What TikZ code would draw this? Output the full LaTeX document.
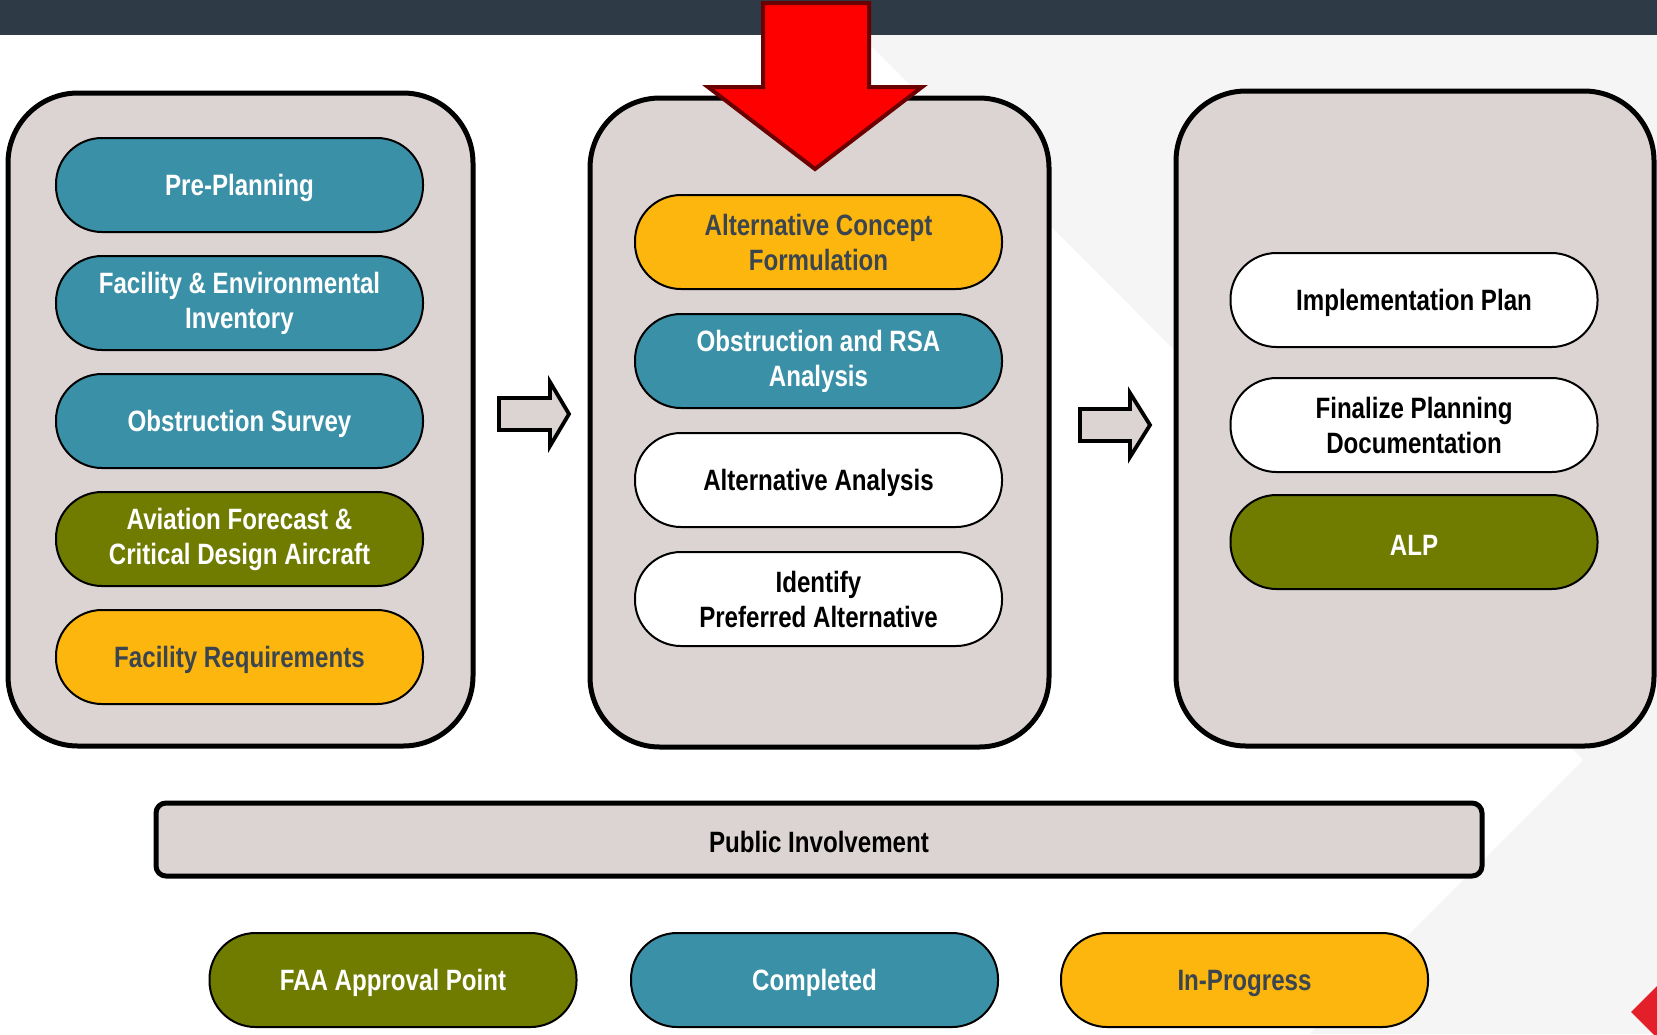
\documentclass[tikz,border=0pt]{standalone}
\usepackage{fontspec}
\setmainfont{Liberation Sans}[FakeStretch=0.82]
\usepackage{tikz}
\usetikzlibrary{positioning}
\definecolor{topbar}{HTML}{2E3B46}
\definecolor{lightbg}{HTML}{F5F5F5}
\definecolor{panelgray}{HTML}{DCD4D3}
\definecolor{tealdone}{HTML}{3A90A7}
\definecolor{faaolive}{HTML}{6F7C00}
\definecolor{amber}{HTML}{FDB60D}
\definecolor{slatetext}{HTML}{3A4550}
\definecolor{redfill}{HTML}{FF0000}
\definecolor{reddark}{HTML}{6B0000}
\definecolor{logored}{HTML}{E3202A}
\tikzset{
  panel/.style={draw, line width=2.5pt, fill=panelgray, rounded corners=35pt},
  pill/.style={draw, line width=1pt, rounded corners=23pt, minimum width=183.5pt,
    minimum height=47pt, align=center, inner sep=0pt,
    execute at begin node={\rule{0pt}{13.5pt}},
    font=\bfseries\fontsize{14.7}{17.5}\selectfont},
  done/.style={pill, fill=tealdone, text=white},
  doing/.style={pill, fill=amber, text=slatetext},
  todo/.style={pill, fill=white, text=black},
  approval/.style={pill, fill=faaolive, text=white},
  hollow/.style={draw, line width=1.9pt, fill=panelgray, line join=miter},
  bigarrow/.style={draw=reddark, line width=2pt, fill=redfill, line join=miter}
  }

\begin{document}
\begin{tikzpicture}[x=0.5pt, y=-0.5pt]
	\useasboundingbox (0,0) rectangle (1657,1034);
	% Background
	\fill[lightbg] (0,0) rectangle (1657,1034);
	\fill[white] (0,35) -- (860,35) -- (1583,760) -- (1309,1034) -- (0,1034) -- cycle;
	\fill[topbar] (0,0) rectangle (1657,35);
	\fill[logored] (1665,978) -- (1699,1012) -- (1665,1046) -- (1631,1012) -- cycle;

	% Panels
	\node[panel, minimum width=232.5pt, minimum height=326.5pt] (survey) at (240.5,419.5) {};
	\node[panel, minimum width=229.5pt, minimum height=324.5pt] (alternatives) at (819.5,422.5) {};
	\node[panel, minimum width=239pt, minimum height=327.5pt] (plan) at (1415,418.5) {};

	% Current step
	\draw[bigarrow] (763,3) -- (869,3) -- (869,87) -- (922,87) -- (815,169) -- (708,87) -- (763,87) -- cycle;

	% Flow between panels
	\draw[hollow] (499,398) -- (550,398) -- (550,382) -- (569,414) -- (550,446) -- (550,430) -- (499,430) -- cycle;
	\draw[hollow] (1080,409) -- (1130,409) -- (1130,393) -- (1150,425) -- (1130,457) -- (1130,441) -- (1080,441) -- cycle;

	% Left column
	\node[done] (preplan) at (239.5,185) {Pre-Planning};
	\node[done, below = 11pt of preplan] (inventory) {Facility \& Environmental\\Inventory};
	\node[done, below = 11pt of inventory] (obsurvey) {Obstruction Survey};
	\node[approval, below = 11pt of obsurvey] (forecast) {Aviation Forecast \&\\Critical Design Aircraft};
	\node[doing, below = 11pt of forecast] (requirements) {Facility Requirements};

	% Middle column
	\node[doing] (concept) at (818.5,242) {Alternative Concept\\Formulation};
	\node[done, below = 11.5pt of concept] (rsa) {Obstruction and RSA\\Analysis};
	\node[todo, below = 11.5pt of rsa] (altanalysis) {Alternative Analysis};
	\node[todo, below = 11.5pt of altanalysis] (preferred) {Identify\\Preferred Alternative};

	% Right column
	\node[todo] (implement) at (1414,300) {Implementation Plan};
	\node[todo, below = 14.5pt of implement] (finalize) {Finalize Planning\\Documentation};
	\node[approval, below = 10.5pt of finalize] (alp) {ALP};

	% Public involvement
	\node[draw, line width=2.5pt, fill=panelgray, rounded corners=5pt, minimum width=663pt,
	  minimum height=36.5pt, execute at begin node={\rule{0pt}{13.5pt}},
	  font=\bfseries\fontsize{14.7}{17.5}\selectfont] (public) at (819,839.5) {Public Involvement};

	% Legend
	\node[approval] (faakey) at (393,980) {FAA Approval Point};
	\node[done] (donekey) at (814.5,980) {Completed};
	\node[doing] (doingkey) at (1244.5,980) {In-Progress};

\end{tikzpicture}
\end{document}
